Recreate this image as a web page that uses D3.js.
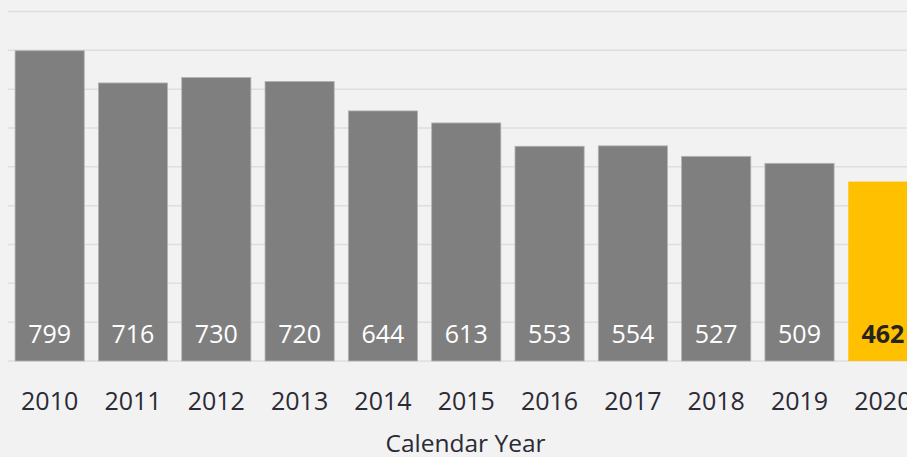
<!DOCTYPE html>
<html><head><meta charset="utf-8">
<script src="https://cdn.jsdelivr.net/npm/d3@7"></script>
<style>html,body{margin:0;padding:0;background:#f2f2f2;overflow:hidden}</style>
</head><body>
<svg id="c" width="907" height="457"></svg>
<script>
const years = ["2010","2011","2012","2013","2014","2015","2016","2017","2018","2019","2020"];
const values = [799,716,730,720,644,613,553,554,527,509,462];
const highlight = "2020";
const gridTicks = [0,100,200,300,400,500,600,700,800,900];
const axisTitle = "Calendar Year";

const svg = d3.select("#c");
const W = 907, H = 457;
svg.append("rect").attr("width",W).attr("height",H).attr("fill","#f2f2f2");

const x = d3.scaleBand().domain(years).range([8, 924.5]).paddingInner(0.17).paddingOuter(0.085);
const y = d3.scaleLinear().domain([0,900]).range([361, 11.5]);

const font = "'Open Sans', 'Noto Sans', sans-serif";

svg.append("g").selectAll("line").data(gridTicks).join("line")
  .attr("x1",8).attr("x2",W).attr("y1",d=>y(d)).attr("y2",d=>y(d))
  .attr("stroke","#dedde3").attr("stroke-width",1.5);

const data = years.map((yr,i)=>({yr, v: values[i]}));

svg.append("g").selectAll("rect").data(data).join("rect")
  .attr("x",d=>x(d.yr)).attr("width",x.bandwidth())
  .attr("y",d=>y(d.v)).attr("height",d=>y(0)-y(d.v))
  .attr("fill",d=>d.yr===highlight?"#ffc000":"#7f7f7f")
  .attr("stroke",d=>d.yr===highlight?"none":"#b3b3b3").attr("stroke-width",0.8);

svg.append("g").selectAll("text").data(data).join("text")
  .attr("x",d=>x(d.yr)+x.bandwidth()/2).attr("y",342.5)
  .attr("text-anchor","middle")
  .attr("font-family",font).attr("font-size",25)
  .attr("font-weight",d=>d.yr===highlight?"bold":"normal")
  .attr("fill",d=>d.yr===highlight?"#252423":"#ffffff")
  .text(d=>d.v);

const ax = svg.append("g").attr("transform","translate(0,361)")
  .call(d3.axisBottom(x).tickSize(0).tickPadding(0));
ax.select(".domain").remove();
ax.selectAll("text").attr("dy",0).attr("y",48.5)
  .attr("font-family",font).attr("font-size",25).attr("fill","#2b2a35");

svg.append("text").attr("x",465.5).attr("y",451.5).attr("text-anchor","middle")
  .attr("font-family",font).attr("font-size",24.5).attr("fill","#2b2a35")
  .text(axisTitle);
</script>
</body></html>
